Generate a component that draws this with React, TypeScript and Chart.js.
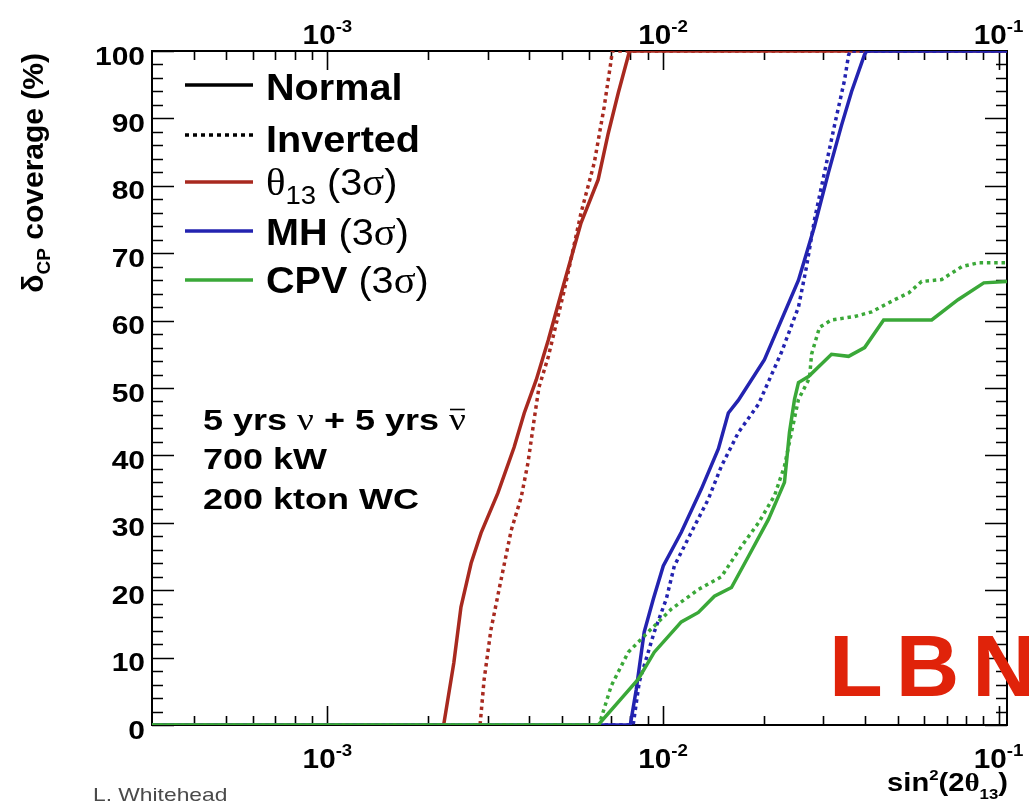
import React, { useEffect, useRef } from "react";
import { Chart, registerables } from "chart.js";

Chart.register(...registerables);

// ---------- data ----------
const X_MIN = 3e-4;
const X_MAX = 0.106;
const Y_MIN = 0;
const Y_MAX = 100;
const yMajorTicks = [0, 10, 20, 30, 40, 50, 60, 70, 80, 90, 100];
const xMajorTicks = [1e-3, 1e-2, 1e-1];
const xTickExponents = ["-3", "-2", "-1"];

const theta13NormalX = [3e-4, 2.22e-3, 2.38e-3, 2.5e-3, 2.68e-3, 2.87e-3, 3.22e-3, 3.6e-3, 3.86e-3, 4.19e-3, 4.55e-3, 5.08e-3, 5.7e-3, 6.41e-3, 6.87e-3, 7.36e-3, 7.95e-3, 0.106];
const theta13NormalY = [0, 0, 9.2, 17.5, 24.0, 28.5, 34.4, 41.2, 46.3, 51.2, 57.1, 65.7, 74.5, 80.9, 87.8, 93.8, 100, 100];

const theta13InvertedX = [3e-4, 2.85e-3, 2.93e-3, 3.07e-3, 3.29e-3, 3.53e-3, 3.78e-3, 3.96e-3, 4.13e-3, 4.27e-3, 4.55e-3, 5.08e-3, 5.7e-3, 6.24e-3, 6.68e-3, 7.01e-3, 7.06e-3, 0.106];
const theta13InvertedY = [0, 0, 6.7, 14.1, 21.5, 28.9, 33.8, 38.9, 45.3, 50.1, 54.6, 64.5, 76.0, 83.4, 91.7, 98.7, 100, 100];

const mhNormalX = [3e-4, 7.99e-3, 8.32e-3, 8.79e-3, 9.36e-3, 1.002e-2, 1.134e-2, 1.301e-2, 1.463e-2, 1.566e-2, 1.678e-2, 2.006e-2, 2.534e-2, 2.678e-2, 2.829e-2, 3.114e-2, 3.406e-2, 3.649e-2, 3.99e-2, 4.05e-2, 0.106];
const mhNormalY = [0, 0, 5.2, 13.8, 18.7, 23.6, 28.6, 35.0, 41.0, 46.3, 48.2, 54.2, 66.0, 70.0, 74.0, 82.0, 89.0, 94.0, 99.5, 100, 100];

const mhInvertedX = [3e-4, 8.15e-3, 8.5e-3, 9.42e-3, 1.023e-2, 1.081e-2, 1.215e-2, 1.365e-2, 1.493e-2, 1.678e-2, 1.926e-2, 2.255e-2, 2.534e-2, 2.678e-2, 2.829e-2, 3.03e-2, 3.246e-2, 3.477e-2, 3.574e-2, 3.624e-2, 0.106];
const mhInvertedY = [0, 0, 6.4, 13.8, 18.7, 23.6, 28.6, 33.5, 38.4, 43.4, 47.6, 55.3, 62.0, 68.0, 75.0, 82.0, 89.0, 95.7, 99.4, 100, 100];

const cpvNormalX = [3e-4, 6.41e-3, 7.51e-3, 8.44e-3, 9.42e-3, 1.134e-2, 1.275e-2, 1.423e-2, 1.6e-2, 1.797e-2, 2.062e-2, 2.302e-2, 2.382e-2, 2.466e-2, 2.534e-2, 2.715e-2, 3.179e-2, 3.574e-2, 3.99e-2, 4.546e-2, 6.323e-2, 7.575e-2, 9.04e-2, 0.106];
const cpvNormalY = [0, 0, 3.9, 6.8, 10.8, 15.3, 16.7, 19.1, 20.4, 25.0, 30.5, 36.0, 43.4, 48.3, 50.8, 51.7, 55.0, 54.7, 56.0, 60.1, 60.1, 63.1, 65.6, 65.8];

const cpvInvertedX = [3e-4, 6.45e-3, 7.01e-3, 7.88e-3, 9.04e-3, 1.059e-2, 1.275e-2, 1.493e-2, 1.713e-2, 1.926e-2, 2.149e-2, 2.302e-2, 2.415e-2, 2.534e-2, 2.734e-2, 2.772e-2, 2.928e-2, 3.179e-2, 3.724e-2, 4.187e-2, 4.902e-2, 5.397e-2, 5.902e-2, 6.774e-2, 7.77e-2, 8.735e-2, 0.106];
const cpvInvertedY = [0, 0, 5.8, 10.8, 13.8, 17.2, 20.1, 22.0, 26.5, 30.0, 34.0, 38.4, 43.4, 48.3, 51.5, 55.0, 59.0, 60.1, 60.6, 61.3, 63.1, 64.1, 65.8, 66.1, 68.0, 68.6, 68.6];

const RED = "#a8291f";
const BLUE = "#2323b0";
const GREEN = "#3aa838";

const SANS = '"Liberation Sans", Arial, Helvetica, sans-serif';
const SERIF = '"Liberation Serif", "Times New Roman", serif';
const SX = 1.2;

type Run = { t: string; font: string; dy?: number };

function runsWidth(ctx: CanvasRenderingContext2D, runs: Run[]) {
  let w = 0;
  for (const r of runs) {
    ctx.font = r.font;
    w += ctx.measureText(r.t).width;
  }
  return w;
}

function drawRuns(
  ctx: CanvasRenderingContext2D,
  runs: Run[],
  x: number,
  y: number,
  align: "left" | "center" | "right",
  sx = SX,
  color = "#000"
) {
  ctx.save();
  ctx.fillStyle = color;
  ctx.textBaseline = "alphabetic";
  ctx.textAlign = "left";
  const w = runsWidth(ctx, runs);
  ctx.translate(x, y);
  ctx.scale(sx, 1);
  let cx = align === "left" ? 0 : align === "center" ? -w / 2 : -w;
  const starts: number[] = [];
  for (const r of runs) {
    ctx.font = r.font;
    starts.push(x + cx * sx);
    ctx.fillText(r.t, cx, r.dy || 0);
    cx += ctx.measureText(r.t).width;
  }
  ctx.restore();
  return { width: w * sx, starts };
}

function pts(xs: number[], ys: number[]) {
  return xs.map((x, i) => ({ x, y: ys[i] }));
}

const rootAxesPlugin = {
  id: "rootAxes",
  beforeDatasetsDraw(chart: any) {
    const ctx: CanvasRenderingContext2D = chart.ctx;
    const { left, right, top, bottom } = chart.chartArea;
    const xs = chart.scales.x;
    const ys = chart.scales.y;
    ctx.save();
    ctx.strokeStyle = "#000";
    ctx.lineWidth = 2;
    ctx.strokeRect(left, top, right - left, bottom - top);
    ctx.lineWidth = 1.6;
    ctx.beginPath();
    for (let v = Y_MIN; v <= Y_MAX; v += 2) {
      const py = Math.round(ys.getPixelForValue(v)) + 0.5;
      const len = v % 10 === 0 ? 22 : 11;
      ctx.moveTo(left, py);
      ctx.lineTo(left + len, py);
      ctx.moveTo(right, py);
      ctx.lineTo(right - len, py);
    }
    for (const d of [1e-4, 1e-3, 1e-2, 1e-1]) {
      for (let m = 1; m <= 9; m++) {
        const v = m * d;
        if (v <= X_MIN * 1.0001 || v > X_MAX) continue;
        const px = Math.round(xs.getPixelForValue(v)) + 0.5;
        const len = m === 1 ? 19 : 9;
        ctx.moveTo(px, bottom);
        ctx.lineTo(px, bottom - len);
        ctx.moveTo(px, top);
        ctx.lineTo(px, top + len);
      }
    }
    ctx.stroke();
    ctx.restore();
  },
  afterDraw(chart: any) {
    const ctx: CanvasRenderingContext2D = chart.ctx;
    const xs = chart.scales.x;
    const ys = chart.scales.y;
    const B = (s: number) => `bold ${s}px ${SANS}`;
    const R = (s: number) => `${s}px ${SANS}`;
    const G = (s: number) => `${s}px ${SERIF}`;

    for (const v of yMajorTicks) {
      const py = ys.getPixelForValue(v);
      drawRuns(ctx, [{ t: String(v), font: B(25) }], 145, py + 13.5, "right");
    }
    xMajorTicks.forEach((v, i) => {
      const px = xs.getPixelForValue(v);
      const runs: Run[] = [
        { t: "10", font: B(27) },
        { t: xTickExponents[i], font: B(17), dy: -12 },
      ];
      drawRuns(ctx, runs, px, 768, "center", 1.1);
      drawRuns(ctx, runs, px, 44, "center", 1.1);
    });

    drawRuns(
      ctx,
      [
        { t: "sin", font: B(26) },
        { t: "2", font: B(15), dy: -11 },
        { t: "(2", font: B(26) },
        { t: "θ", font: `bold 26px ${SERIF}` },
        { t: "13", font: B(15), dy: 8 },
        { t: ")", font: B(26) },
      ],
      1008,
      791,
      "right",
      1.12
    );

    ctx.save();
    ctx.translate(43, 53);
    ctx.rotate(-Math.PI / 2);
    drawRuns(
      ctx,
      [
        { t: "δ", font: B(30) },
        { t: "CP", font: B(19), dy: 7 },
        { t: " coverage (%)", font: B(30) },
      ],
      0,
      0,
      "right",
      1.0
    );
    ctx.restore();

    const lx0 = 185;
    const lx1 = 253;
    const legendRows: { color: string; dash: number[]; yLine: number; yText: number; runs: Run[] }[] = [
      { color: "#000", dash: [], yLine: 85, yText: 100, runs: [{ t: "Normal", font: B(36) }] },
      { color: "#000", dash: [4, 4], yLine: 135, yText: 152, runs: [{ t: "Inverted", font: B(36) }] },
      {
        color: RED,
        dash: [],
        yLine: 182,
        yText: 195,
        runs: [
          { t: "θ", font: G(37) },
          { t: "13", font: R(25), dy: 9 },
          { t: " (3", font: R(36) },
          { t: "σ", font: G(37) },
          { t: ")", font: R(36) },
        ],
      },
      {
        color: BLUE,
        dash: [],
        yLine: 231,
        yText: 245,
        runs: [
          { t: "MH", font: B(36) },
          { t: " (3", font: R(36) },
          { t: "σ", font: G(37) },
          { t: ")", font: R(36) },
        ],
      },
      {
        color: GREEN,
        dash: [],
        yLine: 280,
        yText: 293,
        runs: [
          { t: "CPV", font: B(36) },
          { t: " (3", font: R(36) },
          { t: "σ", font: G(37) },
          { t: ")", font: R(36) },
        ],
      },
    ];
    for (const row of legendRows) {
      ctx.save();
      ctx.strokeStyle = row.color;
      ctx.lineWidth = 3.5;
      ctx.setLineDash(row.dash);
      ctx.beginPath();
      ctx.moveTo(lx0, row.yLine);
      ctx.lineTo(lx1, row.yLine);
      ctx.stroke();
      ctx.restore();
      drawRuns(ctx, row.runs, 266, row.yText, "left", 1.1);
    }

    const ann = drawRuns(
      ctx,
      [
        { t: "5 yrs ", font: B(30) },
        { t: "ν", font: G(31) },
        { t: " + 5 yrs ", font: B(30) },
        { t: "ν", font: G(31) },
      ],
      203,
      430,
      "left"
    );
    const nuStart = ann.starts[3];
    const nuEnd = 203 + ann.width;
    ctx.save();
    ctx.strokeStyle = "#000";
    ctx.lineWidth = 1.6;
    ctx.beginPath();
    ctx.moveTo(nuStart + 1, 409.5);
    ctx.lineTo(nuEnd - 1, 409.5);
    ctx.stroke();
    ctx.restore();
    drawRuns(ctx, [{ t: "700 kW", font: B(30) }], 203, 469, "left");
    drawRuns(ctx, [{ t: "200 kton WC", font: B(30) }], 203, 509, "left");

    drawRuns(ctx, [{ t: "L. Whitehead", font: R(19) }], 93, 801, "left", SX, "#4a4a4a");

    ctx.save();
    ctx.fillStyle = "#e0230a";
    ctx.font = `bold 88px ${SANS}`;
    (ctx as any).letterSpacing = "13px";
    ctx.textBaseline = "alphabetic";
    ctx.textAlign = "left";
    ctx.fillText("LBN", 829, 696);
    ctx.restore();
  },
};

export default function App() {
  const canvasRef = useRef<HTMLCanvasElement | null>(null);

  useEffect(() => {
    const canvas = canvasRef.current;
    if (!canvas) return;
    const line = (label: string, xs: number[], ys: number[], color: string, dashed: boolean) => ({
      label,
      data: pts(xs, ys),
      borderColor: color,
      backgroundColor: color,
      borderWidth: 3.5,
      borderDash: dashed ? [3.5, 3.8] : [],
      pointRadius: 0,
      tension: 0,
      fill: false,
    });
    const chart = new Chart(canvas, {
      type: "line",
      data: {
        datasets: [
          line("CPV Inverted", cpvInvertedX, cpvInvertedY, GREEN, true),
          line("CPV Normal", cpvNormalX, cpvNormalY, GREEN, false),
          line("MH Inverted", mhInvertedX, mhInvertedY, BLUE, true),
          line("MH Normal", mhNormalX, mhNormalY, BLUE, false),
          line("θ13 Inverted", theta13InvertedX, theta13InvertedY, RED, true),
          line("θ13 Normal", theta13NormalX, theta13NormalY, RED, false),
        ],
      },
      options: {
        responsive: false,
        animation: false,
        devicePixelRatio: 1,
        layout: { padding: { left: 152, top: 51, right: 22, bottom: 81 } },
        plugins: { legend: { display: false }, tooltip: { enabled: false } },
        scales: {
          x: { type: "logarithmic", min: X_MIN, max: X_MAX, display: false },
          y: { type: "linear", min: Y_MIN, max: Y_MAX, display: false },
        },
      },
      plugins: [rootAxesPlugin],
    } as any);
    return () => chart.destroy();
  }, []);

  return (
    <div style={{ position: "fixed", left: 0, top: 0, width: 1029, height: 806, background: "#fff" }}>
      <canvas ref={canvasRef} width={1029} height={806} style={{ display: "block" }} />
    </div>
  );
}
